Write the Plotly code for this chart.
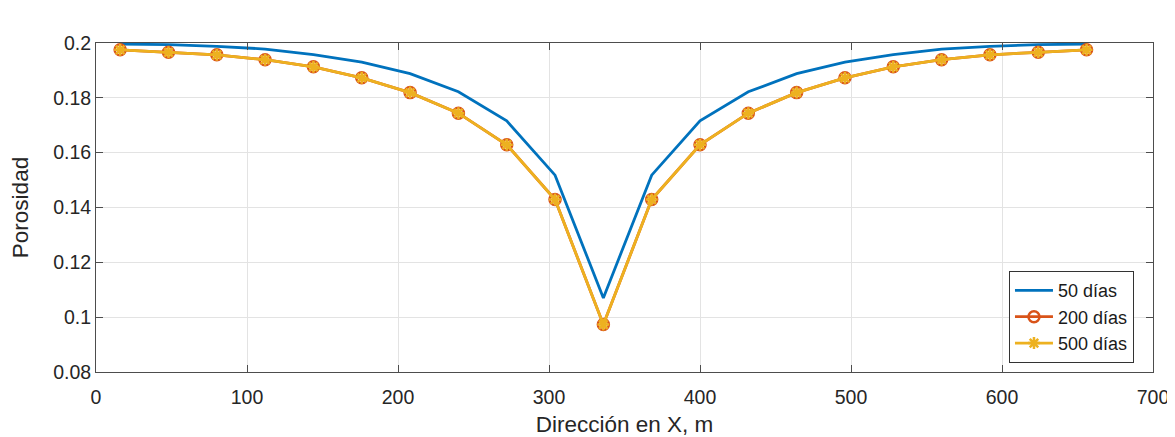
import plotly.graph_objects as go

x_m = [16, 48, 80, 112, 144, 176, 208, 240, 272, 304, 336,
       368, 400, 432, 464, 496, 528, 560, 592, 624, 656]
por_50 = [0.1996, 0.1994, 0.1988, 0.1978, 0.1958, 0.1930, 0.1888, 0.1822, 0.1716, 0.1518, 0.1070,
          0.1518, 0.1716, 0.1822, 0.1888, 0.1930, 0.1958, 0.1978, 0.1988, 0.1994, 0.1996]
por_200 = [0.1975, 0.1966, 0.1957, 0.1939, 0.1913, 0.1873, 0.1819, 0.1744, 0.1629, 0.1429, 0.0973,
           0.1429, 0.1629, 0.1744, 0.1819, 0.1873, 0.1913, 0.1939, 0.1957, 0.1966, 0.1975]
por_500 = list(por_200)

x_ticks = [0, 100, 200, 300, 400, 500, 600, 700]
y_ticks = [0.08, 0.1, 0.12, 0.14, 0.16, 0.18, 0.2]
y_ticktext = ["0.08", "0.1", "0.12", "0.14", "0.16", "0.18", "0.2"]

FONT = "Liberation Sans, Arial, sans-serif"

fig = go.Figure()
fig.add_trace(go.Scatter(x=x_m, y=por_50, mode="lines", name="50 días",
                         line=dict(color="#0072BD", width=2.8)))
fig.add_trace(go.Scatter(x=x_m, y=por_200, mode="lines+markers", name="200 días",
                         line=dict(color="#D95319", width=2.8),
                         marker=dict(symbol="circle-open", size=11, color="#D95319",
                                     line=dict(width=2.5, color="#D95319"))))
fig.add_trace(go.Scatter(x=x_m, y=por_500, mode="lines+markers", name="500 días",
                         line=dict(color="#EDB120", width=2.8),
                         marker=dict(symbol="asterisk-open", size=10, color="#EDB120",
                                     line=dict(width=2.5, color="#EDB120"))))

axis_common = dict(showgrid=True, gridcolor="#e3e3e3", gridwidth=1,
                   showline=True, linecolor="#4d4d4d", linewidth=1, mirror="ticks",
                   ticks="inside", ticklen=7, tickcolor="#4d4d4d",
                   tickfont=dict(family=FONT, size=19.5, color="#262626"),
                   zeroline=False, automargin=False)

fig.update_layout(
    width=1175, height=437,
    margin=dict(l=88, r=30, t=35, b=73),
    paper_bgcolor="white", plot_bgcolor="white",
    font=dict(family=FONT, color="#262626"),
    xaxis=dict(range=[0, 700], tickvals=x_ticks, ticklabelstandoff=8,
               title=dict(text="Dirección en X, m", font=dict(family=FONT, size=22.5, color="#262626"),
                          standoff=8),
               **axis_common),
    yaxis=dict(range=[0.08, 0.2], tickvals=y_ticks, ticktext=y_ticktext,
               title=dict(text="Porosidad", font=dict(family=FONT, size=22.5, color="#262626"),
                          standoff=22),
               **axis_common),
    legend=dict(x=0.982, y=0.027, xanchor="right", yanchor="bottom",
                bgcolor="white", bordercolor="#333333", borderwidth=1,
                font=dict(family=FONT, size=18, color="#1a1a1a"),
                tracegroupgap=0, itemwidth=38),
    showlegend=True,
)

fig.write_html("out.html")
